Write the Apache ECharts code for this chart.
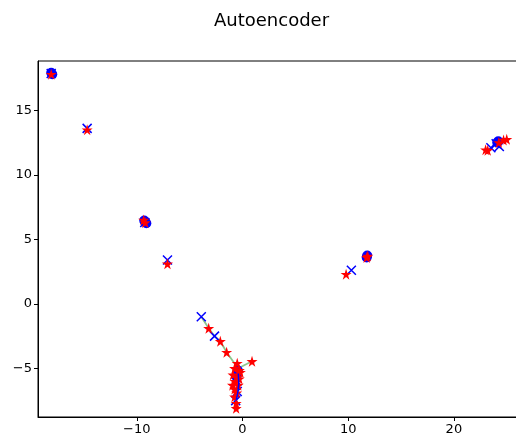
<!DOCTYPE html>
<html>
<head>
<meta charset="utf-8">
<script src="https://cdn.jsdelivr.net/npm/echarts@6/dist/echarts.min.js"></script>
<style>
  html, body { margin: 0; padding: 0; background: #fff; }
  #chart { width: 516px; height: 441px; }
</style>
</head>
<body>
<div id="chart"></div>
<script>
// tick values
var xTicks = [-10, 0, 10, 20];
var yTicks = [-5, 0, 5, 10, 15];

// blue circles (encoded centres)
var circlePts = [
  [-18.1, 17.9], [-18.0, 17.8], [-9.3, 6.45], [-9.1, 6.25], [-9.2, 6.35],
  [11.8, 3.75], [11.75, 3.6], [24.2, 12.6], [24.1, 12.5],
  [-0.45, -5.15], [-0.6, -5.6]
];

// blue crosses
var crossPts = [
  [-18.1, 17.85], [-14.7, 13.6], [-9.25, 6.3], [-7.1, 3.4], [-3.9, -1.0],
  [-2.65, -2.5], [10.3, 2.6], [23.5, 12.1], [24.3, 12.2], [24.0, 12.4],
  [-0.65, -7.5], [-0.5, -6.8], [-0.55, -6.0]
];

// red stars (reconstructions)
var starPts = [
  [-18.1, 17.8], [-14.7, 13.5], [-9.35, 6.5], [-9.2, 6.3], [-7.1, 3.1],
  [-3.2, -1.9], [-2.1, -2.9], [-1.5, -3.75], [0.9, -4.45],
  [-0.5, -4.6], [-0.75, -5.0], [-0.3, -5.15], [-0.9, -5.5], [-0.5, -5.7],
  [-0.7, -6.0], [-0.4, -6.3], [-0.75, -6.6], [-0.55, -6.9], [-0.75, -7.2],
  [-0.6, -7.7], [-0.6, -8.1], [-0.2, -5.3], [-0.95, -6.3], [-0.3, -5.8],
  [9.8, 2.3], [11.75, 3.6], [11.85, 3.7],
  [23.0, 11.95], [23.2, 11.9], [24.25, 12.5], [24.7, 12.7], [25.0, 12.75]
];

// green connecting lines
var greenPath1 = [[-3.9, -1.0], [-3.2, -1.9], [-2.65, -2.5], [-2.1, -2.9], [-1.5, -3.75], [-0.6, -4.8]];
var greenPath2 = [[0.9, -4.45], [-0.3, -4.95]];
// blue connecting line in the main column
var bluePath = [[-0.4, -5.4], [-0.35, -6.2], [-0.45, -6.9], [-0.6, -7.5]];

var starSym = 'path://M50,0 L61,35 L98,35 L68,57 L79,91 L50,70 L21,91 L32,57 L2,35 L39,35 Z';
var crossSym = 'path://M0,0 L10,10 M10,0 L0,10';

function fmt(v) {
  return String(v).replace('-', '\u2212');
}

var chart = echarts.init(document.getElementById('chart'));
chart.setOption({
  animation: false,
  backgroundColor: '#fff',
  textStyle: { fontFamily: 'DejaVu Sans' },
  title: {
    text: 'Autoencoder',
    left: 209,
    top: 7,
    textStyle: { fontFamily: 'DejaVu Sans', fontSize: 18, fontWeight: 'normal', color: '#000' }
  },
  grid: {
    left: 38, top: 61, right: -5, bottom: 24,
    show: true, borderColor: '#000', borderWidth: 1,
    outerBoundsMode: 'none'
  },
  xAxis: {
    type: 'value',
    min: -19.35, max: 26.35,
    splitLine: { show: false },
    axisLine: { onZero: false, lineStyle: { color: '#000' } },
    axisTick: { inside: false, length: 4, customValues: xTicks, lineStyle: { color: '#000' } },
    axisLabel: { customValues: xTicks, color: '#000', fontSize: 13, margin: 6, formatter: fmt }
  },
  yAxis: {
    type: 'value',
    min: -8.77, max: 18.82,
    splitLine: { show: false },
    axisLine: { show: true, onZero: false, lineStyle: { color: '#000' } },
    axisTick: { show: true, length: 4, customValues: yTicks, lineStyle: { color: '#000' } },
    axisLabel: { customValues: yTicks, color: '#000', fontSize: 13, margin: 6, formatter: fmt }
  },
  series: [
    {
      type: 'line', data: greenPath1, symbol: 'none', z: 1,
      lineStyle: { color: 'rgba(0,128,0,0.45)', width: 1.8 }
    },
    {
      type: 'line', data: greenPath2, symbol: 'none', z: 1,
      lineStyle: { color: 'rgba(0,128,0,0.45)', width: 1.8 }
    },
    {
      type: 'scatter', data: circlePts, symbol: 'circle', symbolSize: 10, z: 2,
      itemStyle: { color: '#0000ff', opacity: 1 }
    },
    {
      type: 'scatter', data: crossPts, symbol: crossSym, symbolSize: 9, z: 3,
      itemStyle: { color: 'rgba(0,0,0,0)', borderColor: '#0000ff', borderWidth: 1.5, opacity: 1 }
    },
    {
      type: 'scatter', data: starPts, symbol: starSym, symbolSize: 11, z: 4,
      itemStyle: { color: '#ff0000', opacity: 1 }
    },
    {
      type: 'line', data: bluePath, symbol: 'none', z: 5,
      lineStyle: { color: '#0000ff', width: 1.5 }
    }
  ]
});
</script>
</body>
</html>
